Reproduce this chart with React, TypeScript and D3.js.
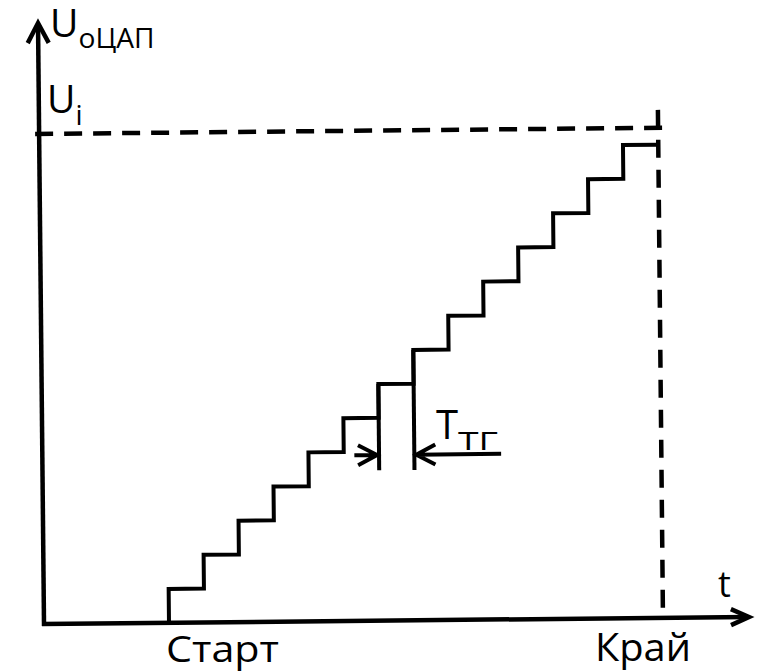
import React, { useRef, useEffect } from 'react';
import * as d3 from 'd3';

// clock periods at which the DAC output steps up, and the level it reaches
const stepTimes = [0, 1, 2, 3, 4, 5, 6, 7, 8, 9, 10, 11, 12, 13];
const stepLevels = [1, 2, 3, 4, 5, 6, 7, 8, 9, 10, 11, 12, 13, 14];
const endTime = 14; // "Край"
const levelUi = 14.5; // U_i dashed level
const ttgMarks = [6, 7]; // period shown by the T_тг dimension
const ttgLevel = 4.87;
const ttgExtLevel = 4.45;

const App = () => {
  const chartRef = useRef(null);

  useEffect(() => {
    const container = d3.select(chartRef.current);
    container.selectAll('svg').remove();

    const width = 759;
    const height = 672;
    const ox = 44;
    const oy = 624;

    const svg = container
      .append('svg')
      .attr('width', width)
      .attr('height', height)
      .style('position', 'absolute')
      .style('left', 0)
      .style('top', 0)
      .style('background', '#fff');

    // time (clock periods) -> px, level (LSB) -> px
    const x = d3.scaleLinear().domain([0, endTime]).range([169, 663]);
    const y = d3.scaleLinear().domain([0, 14]).range([oy, oy - 14 * 33.8]);

    // the scan is tilted a little, so the drawing is too
    const g = svg.append('g').attr('transform', `rotate(-0.57, ${ox}, ${oy})`);

    const lineW = 4;

    // axes
    const yTop = 22;
    const xEnd = 750;
    g.append('line')
      .attr('x1', ox).attr('y1', oy + 2)
      .attr('x2', ox).attr('y2', yTop + 2)
      .attr('stroke', '#000').attr('stroke-width', lineW + 0.5);
    g.append('path')
      .attr('d', `M${ox - 10.5},${yTop + 21} L${ox},${yTop + 1} L${ox + 10.5},${yTop + 21}`)
      .attr('fill', 'none').attr('stroke', '#000').attr('stroke-width', lineW + 0.5);
    g.append('line')
      .attr('x1', ox - 2).attr('y1', oy)
      .attr('x2', xEnd - 2).attr('y2', oy)
      .attr('stroke', '#000').attr('stroke-width', lineW + 0.5);
    g.append('path')
      .attr('d', `M${xEnd - 19},${oy - 8} L${xEnd - 1},${oy} L${xEnd - 19},${oy + 8}`)
      .attr('fill', 'none').attr('stroke', '#000').attr('stroke-width', lineW + 0.5);

    // dashed U_i level and end marker
    g.append('line')
      .attr('x1', ox - 4).attr('y1', y(levelUi))
      .attr('x2', x(endTime) + 5).attr('y2', y(levelUi))
      .attr('stroke', '#000').attr('stroke-width', 4.5)
      .attr('stroke-dasharray', '18 11');
    g.append('line')
      .attr('x1', x(endTime)).attr('y1', y(15.03))
      .attr('x2', x(endTime)).attr('y2', oy)
      .attr('stroke', '#000').attr('stroke-width', 4.5)
      .attr('stroke-dasharray', '18 12');

    // staircase
    const pts = [{ t: stepTimes[0], u: 0 }]
      .concat(stepTimes.map((t, i) => ({ t, u: stepLevels[i] })))
      .concat([{ t: endTime, u: stepLevels[stepLevels.length - 1] }]);
    const stair = d3.line<any>()
      .x((d) => x(d.t))
      .y((d) => y(d.u))
      .curve(d3.curveStepAfter);
    g.append('path')
      .attr('d', stair(pts))
      .attr('fill', 'none')
      .attr('stroke', '#000')
      .attr('stroke-width', lineW)
      .attr('stroke-linejoin', 'miter');

    // T_тг dimension: extension lines and arrows
    ttgMarks.forEach((t) => {
      g.append('line')
        .attr('x1', x(t)).attr('y1', y(t + 1))
        .attr('x2', x(t)).attr('y2', y(ttgExtLevel))
        .attr('stroke', '#000').attr('stroke-width', lineW);
    });
    const ay = y(ttgLevel) - 1;
    const xl = x(ttgMarks[0]) - 2;
    const xr = x(ttgMarks[1]) + 2;
    g.append('path')
      .attr('d', `M${x(5.3)},${ay} L${xl},${ay} M${xl - 19},${ay - 10} L${xl},${ay} L${xl - 19},${ay + 10}`)
      .attr('fill', 'none').attr('stroke', '#000').attr('stroke-width', lineW);
    g.append('path')
      .attr('d', `M${x(9.46)},${ay} L${xr},${ay} M${xr + 19},${ay - 10} L${xr},${ay} L${xr + 19},${ay + 10}`)
      .attr('fill', 'none').attr('stroke', '#000').attr('stroke-width', lineW);

    // labels
    const font = '"Open Sans", "Noto Sans", sans-serif';
    const label = (tx: number, ty: number, size: number) =>
      svg.append('text')
        .attr('x', tx).attr('y', ty)
        .attr('font-family', font)
        .attr('font-size', size)
        .attr('fill', '#000');

    // main symbol with a subscript, as one text
    const withSub = (tx: number, ty: number, main: string, sub: string,
      size: number, subSize: number, drop: number, subLen?: number) => {
      const t = label(tx, ty, size);
      t.append('tspan').text(main);
      const s = t.append('tspan')
        .attr('dy', drop)
        .attr('font-size', subSize)
        .text(sub);
      if (subLen) s.attr('textLength', subLen).attr('lengthAdjust', 'spacingAndGlyphs');
      return t;
    };

    withSub(50, 37, 'U', 'оЦАП', 39, 28, 11, 76);
    withSub(47, 113, 'U', 'i', 39, 28, 12);
    withSub(436, 439, 'T', 'ТГ', 40, 25, 11, 40);

    label(x(0) - 3, 662, 37).text('Старт')
      .attr('textLength', 113).attr('lengthAdjust', 'spacingAndGlyphs');
    label(x(endTime) - 68, 661, 38).text('Край')
      .attr('textLength', 96).attr('lengthAdjust', 'spacingAndGlyphs');
    label(718, 597, 36).text('t');
  }, []);

  return <div ref={chartRef}></div>;
};

export default App;
